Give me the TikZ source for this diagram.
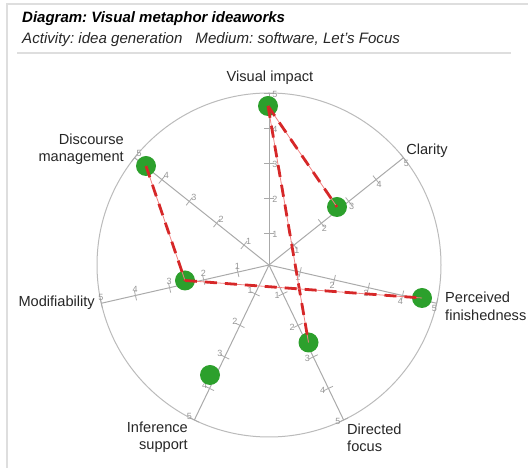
\documentclass[tikz,border=0pt]{standalone}
\usepackage{fontspec}
\setmainfont{Liberation Sans}
\usetikzlibrary{calc}
\frenchspacing
\definecolor{dotgreen}{RGB}{44,160,44}
\definecolor{linered}{RGB}{214,39,40}
\definecolor{thinred}{RGB}{240,130,130}
\definecolor{axisgray}{RGB}{170,170,170}
\definecolor{framegray}{RGB}{222,222,222}
\definecolor{ticktext}{RGB}{150,150,150}
\tikzset{
  axisline/.style={draw=axisgray, line width=1pt},
  ticmark/.style={draw=axisgray, line width=0.8pt},
  ticklbl/.style={text=ticktext, font=\fontsize{9}{9}\selectfont, inner sep=0pt},
  rim/.style={draw=axisgray!80, line width=1pt},
  dot/.style={circle, fill=dotgreen, draw=none, minimum size=20pt, inner sep=0pt},
  faint/.style={draw=thinred, line width=0.8pt},
  dashline/.style={draw=linered, line width=2.8pt, dash pattern=on 12pt off 8pt},
  axlabel/.style={font=\fontsize{14.6}{17.5}\selectfont, inner sep=0pt, text=black!85},
  frameline/.style={draw=framegray, line width=1.6pt},
}
\begin{document}
\begin{tikzpicture}[x=1pt,y=1pt]
\useasboundingbox (0,0) rectangle (528,468);
% frame and header
\draw[frameline] (7,0) -- (7,464) -- (528,464);
\draw[frameline] (17,415) -- (511,415);
\node[anchor=base west, inner sep=0pt, font=\fontsize{15}{18}\selectfont\bfseries\itshape] (title) at (22,445) {Diagram: Visual metaphor ideaworks};
\node[anchor=base west, inner sep=0pt, font=\fontsize{15.1}{17}\selectfont\itshape, text=black!85] (sub) at (22,424) {Activity: idea generation\hspace{13pt}Medium: software, Let's Focus};
% radar
\coordinate (c) at (269,203);
\draw[rim] (c) circle (172);
\foreach \a [count=\i] in {90, 38.571, -12.857, -64.286, -115.714, -167.143, 141.429} {
  \draw[axisline] (c) -- ($(c)+(\a:172)$) coordinate (ax\i);
  \foreach \k in {1,...,5} {
    \pgfmathsetmacro\r{35*\k-3}
    \draw[ticmark] ($(c)+(\a:\r)+(\a+90:5)$) -- ($(c)+(\a:\r)+(\a-90:5)$);
    \node[ticklbl] (t\i\k) at ($(c)+(\a:\r-1)+(\a-90:6)$) {\k};
  }
}
% axis labels
\node[axlabel] (lvi) at (270,390) {Visual impact};
\node[axlabel] (lcl) at (427,317) {Clarity};
\node[axlabel, anchor=west, align=left] (lpf) at (445,161.5) {Perceived\\finishedness};
\node[axlabel, anchor=west, align=left] (ldf) at (347,30) {Directed\\focus};
\node[axlabel, anchor=east, align=right] (lis) at (188,31) {Inference\\support};
\node[axlabel, anchor=east, align=right] (ldm) at (124,319) {Discourse\\management};
\node[axlabel, anchor=east] (lmo) at (95,165) {Modifiability};
% data points
\node[dot] (vi) at (268,362) {};
\node[dot] (cl) at (337,261) {};
\node[dot] (pf) at (422,170) {};
\node[dot] (df) at (308.5,125.5) {};
\node[dot] (is) at (210,93) {};
\node[dot] (mo) at (185,187.5) {};
\node[dot] (dm) at (146,302) {};
% connectors
\foreach \p/\q in {vi/cl, vi/df, dm/mo, mo/pf} {
  \draw[faint] (\p.center) -- (\q.center);
  \draw[dashline] (\p.center) -- (\q.center);
}
\end{tikzpicture}
\end{document}
